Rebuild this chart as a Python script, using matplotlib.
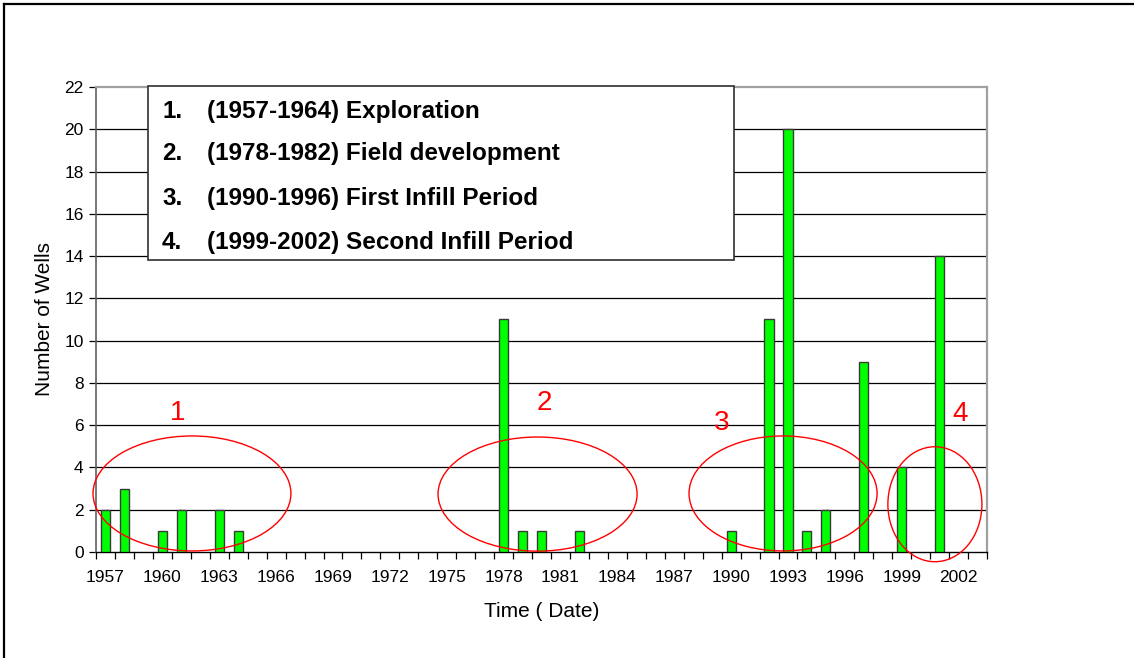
import matplotlib
matplotlib.use("Agg")
import matplotlib.pyplot as plt
from matplotlib.patches import Ellipse, Rectangle
from matplotlib.lines import Line2D
from matplotlib.ticker import FixedLocator, MultipleLocator

plt.rcParams['font.family'] = ['Liberation Sans', 'DejaVu Sans']

# Drilling history: wells drilled per year
first_year = 1957
last_year = 2003
bar_years = [1957, 1958, 1960, 1961, 1963, 1964, 1978, 1979, 1980, 1982,
             1990, 1992, 1993, 1994, 1995, 1997, 1999, 2001]
bar_counts = [2, 3, 1, 2, 2, 1, 11, 1, 1, 1, 1, 11, 20, 1, 2, 9, 4, 14]
label_years = list(range(1957, 2003, 3))

period_lines = ["(1957-1964) Exploration",
                "(1978-1982) Field development",
                "(1990-1996) First Infill Period",
                "(1999-2002) Second Infill Period"]
period_numbers = ["1.", "2.", "3.", "4."]

# Red rings around each period: (centre year, centre y, width in years, height)
rings = [(1961.56, 2.77, 10.44, 5.44),
         (1979.79, 2.74, 10.5, 5.40),
         (1992.74, 2.77, 9.92, 5.44),
         (2000.75, 2.26, 4.96, 5.44)]
ring_tags = ["1", "2", "3", "4"]
ring_tag_pos = [(1960.82, 6.58), (1980.13, 7.05), (1989.52, 6.10), (2002.07, 6.53)]

fig = plt.figure(figsize=(11.34, 6.58), dpi=100)
fig.patch.set_facecolor('white')

# outer frame (top and left edges)
fig.add_artist(Line2D([0.0035, 1.0], [0.9932, 0.9932], transform=fig.transFigure,
                      color='black', lw=1.6))
fig.add_artist(Line2D([0.0035, 0.0035], [0.0, 0.9932], transform=fig.transFigure,
                      color='black', lw=1.6))

ax = fig.add_axes([0.0847, 0.1611, 0.7857, 0.7067])
n_cat = last_year - first_year + 1
ax.set_xlim(-0.5, n_cat - 0.5)
ax.set_ylim(0, 22)

xs = [y - first_year for y in bar_years]
ax.bar(xs, bar_counts, width=0.48, color='#00FF00', edgecolor='#3a3a3a',
       linewidth=1.0, zorder=3)

# horizontal gridlines
for v in range(2, 22, 2):
    ax.axhline(v, color='black', lw=0.9, zorder=1)

ax.yaxis.set_major_locator(MultipleLocator(2))
ax.tick_params(axis='y', direction='out', length=5, width=0.9, colors='black',
               labelsize=12.5, pad=4)

ax.xaxis.set_major_locator(FixedLocator([y - first_year for y in label_years]))
ax.set_xticklabels([str(y) for y in label_years])
ax.xaxis.set_minor_locator(FixedLocator([i - 0.5 for i in range(n_cat + 1)]))
ax.tick_params(axis='x', which='major', length=0, labelsize=12.5, pad=13)
ax.tick_params(axis='x', which='minor', direction='out', length=5, width=0.9,
               color='black')

for side in ('top', 'right'):
    ax.spines[side].set_color('#a0a0a0')
    ax.spines[side].set_linewidth(1.6)
ax.spines['left'].set_color('#606060')
ax.spines['left'].set_linewidth(1.2)
ax.spines['bottom'].set_color('black')
ax.spines['bottom'].set_linewidth(1.0)

ax.set_ylabel("Number of Wells", fontsize=15, labelpad=7)
ax.set_xlabel("Time ( Date)", fontsize=15, labelpad=12)

for (cx, cy, w, h) in rings:
    ax.add_patch(Ellipse((cx - first_year, cy), w, h, fill=False,
                         edgecolor='red', lw=1.0, zorder=4, clip_on=False))
for tag, (tx, ty) in zip(ring_tags, ring_tag_pos):
    ax.text(tx - first_year, ty, tag, color='red', fontsize=20,
            ha='center', va='center', zorder=5)

# period description box
fig.add_artist(Rectangle((0.1305, 0.6049), 0.5168, 0.2644, transform=fig.transFigure,
                         facecolor='white', edgecolor='#303030', lw=1.2, zorder=10))
row_y = [0.8313, 0.7660, 0.6976, 0.6322]
for num, line, yy in zip(period_numbers, period_lines, row_y):
    fig.text(0.1429, yy, num, fontsize=17.5, fontweight='bold', ha='left',
             va='center', zorder=11)
    fig.text(0.1825, yy, line, fontsize=17.5, fontweight='bold', ha='left',
             va='center', zorder=11)

fig.savefig("out.png", dpi=100, facecolor='white')
